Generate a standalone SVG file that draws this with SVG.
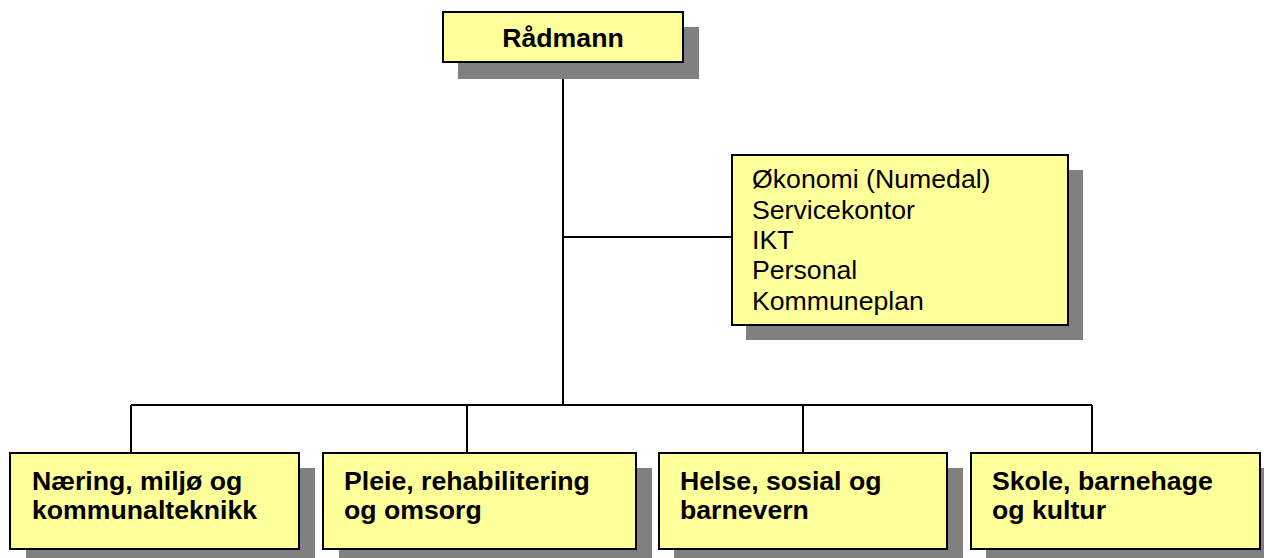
<svg xmlns="http://www.w3.org/2000/svg" width="1264" height="558" viewBox="0 0 1264 558">
<style>
.sh{fill:#808080}
.bx{fill:#FFFF99;stroke:#000;stroke-width:2}
.b{font-family:"Liberation Sans",Arial,sans-serif;font-weight:bold;font-size:26.67px;fill:#000}
.r{font-family:"Liberation Sans",Arial,sans-serif;font-size:26.67px;fill:#000}
.ln{stroke:#000;stroke-width:2;fill:none}
</style>
<rect width="1264" height="558" fill="#fff"/>
<g id="connectors">
<path class="ln" d="M563 62V405M563 237H732M131 405H1092M131 405V453M467 405V453M803 405V453M1092 405V453"/>
</g>
<g id="radmann">
<rect class="sh" x="458" y="27" width="241" height="52"/>
<rect class="bx" x="443" y="12" width="240" height="50"/>
<text class="b" x="563" y="47" text-anchor="middle">Rådmann</text>
</g>
<g id="stab">
<rect class="sh" x="746" y="170" width="337" height="170"/>
<rect class="bx" x="732" y="155" width="336" height="170"/>
<text class="r" x="752"><tspan x="752" y="188">Økonomi (Numedal)</tspan><tspan x="752" y="219">Servicekontor</tspan><tspan x="752" y="249">IKT</tspan><tspan x="752" y="279">Personal</tspan><tspan x="752" y="310">Kommuneplan</tspan></text>
</g>
<g id="naering">
<rect class="sh" x="26" y="468" width="289" height="90"/>
<rect class="bx" x="10" y="453" width="289" height="96"/>
<text class="b"><tspan x="32" y="490">Næring, miljø og</tspan><tspan x="32" y="519">kommunalteknikk</tspan></text>
</g>
<g id="pleie">
<rect class="sh" x="339" y="468" width="313" height="90"/>
<rect class="bx" x="323" y="453" width="313" height="96"/>
<text class="b"><tspan x="344" y="490">Pleie, rehabilitering</tspan><tspan x="344" y="519">og omsorg</tspan></text>
</g>
<g id="helse">
<rect class="sh" x="674" y="468" width="289" height="90"/>
<rect class="bx" x="659" y="453" width="288" height="96"/>
<text class="b"><tspan x="680" y="490">Helse, sosial og</tspan><tspan x="680" y="519">barnevern</tspan></text>
</g>
<g id="skole">
<rect class="sh" x="986" y="468" width="289" height="90"/>
<rect class="bx" x="971" y="453" width="289" height="96"/>
<text class="b"><tspan x="992" y="490">Skole, barnehage</tspan><tspan x="992" y="519">og kultur</tspan></text>
</g>
</svg>
